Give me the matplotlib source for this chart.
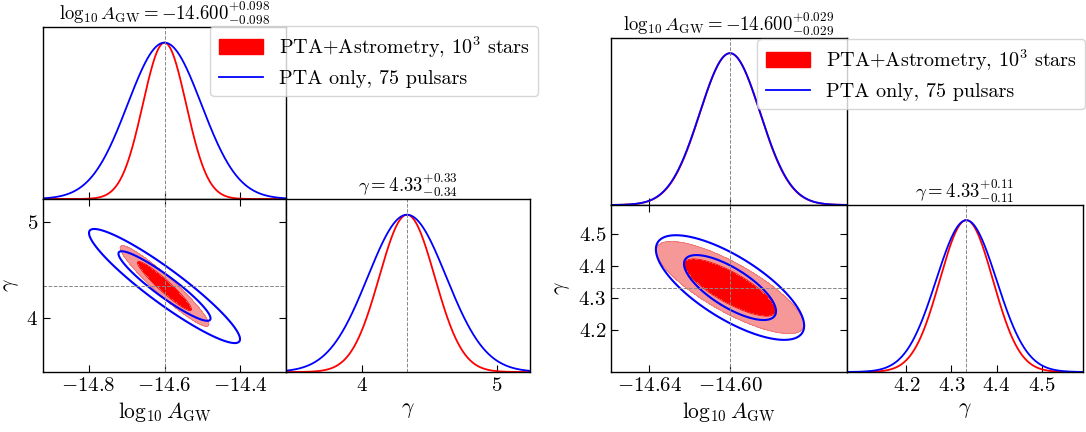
import numpy as np
import matplotlib
matplotlib.use("Agg")
import matplotlib.pyplot as plt
from matplotlib.patches import Patch
from matplotlib.lines import Line2D

plt.rcParams['font.family'] = 'serif'
plt.rcParams['font.serif'] = ['cmr10']
plt.rcParams['mathtext.fontset'] = 'cm'
plt.rcParams['axes.formatter.use_mathtext'] = True

W, H = 1086, 432

# injected values (dashed lines)
truth = [-14.6, 4.333]

# left: broad case
left_xlim = (-14.92, -14.28)
left_glim = (3.437, 5.24)
left_red_sigma = [0.057, 0.205]
left_red_rho = -0.95
left_blue_sigma = [0.097, 0.29]
left_blue_rho = -0.93
left_levels = [1.25, 2.05]
left_xticks = [-14.8, -14.6, -14.4]
left_xticklabels = [r'$-14.8$', r'$-14.6$', r'$-14.4$']
left_gticks = [4, 5]
left_gticklabels = [r'$4$', r'$5$']
left_titles = [r'$\log_{10}A_{\rm GW} = -14.600^{+0.098}_{-0.098}$',
               r'$\gamma = 4.33^{+0.33}_{-0.34}$']

# right: narrow case
right_xlim = (-14.659, -14.542)
right_glim = (4.068, 4.592)
right_red_sigma = [0.0149, 0.059]
right_red_rho = -0.80
right_blue_sigma = [0.0150, 0.067]
right_blue_rho = -0.73
right_levels = [1.52, 2.45]
right_xticks = [-14.64, -14.60]
right_xticklabels = [r'$-14.64$', r'$-14.60$']
right_gticks = [4.2, 4.3, 4.4, 4.5]
right_gticklabels = [r'$4.2$', r'$4.3$', r'$4.4$', r'$4.5$']
right_titles = [r'$\log_{10}A_{\rm GW} = -14.600^{+0.029}_{-0.029}$',
                r'$\gamma = 4.33^{+0.11}_{-0.11}$']

legend_labels = [r'PTA+Astrometry, $10^3$ stars', 'PTA only, 75 pulsars']

RED = '#ff0000'
RED_LIGHT = '#f79898'
BLUE = '#0000ff'
GUIDE = dict(color='#888888', ls='--', lw=0.7)
TICK_FS = 15
LABEL_FS = 15.5
TITLE_FS = 13.5
LEGEND_FS = 14.5


def px_axes(fig, x0, x1, y0, y1):
    return fig.add_axes([x0 / W, 1 - y1 / H, (x1 - x0) / W, (y1 - y0) / H])


def gauss1d(x, m, s):
    return np.exp(-0.5 * ((x - m) / s) ** 2)


def mahal(X, Y, sig, rho):
    dx = (X - truth[0]) / sig[0]
    dy = (Y - truth[1]) / sig[1]
    return (dx ** 2 - 2 * rho * dx * dy + dy ** 2) / (1 - rho ** 2)


def corner(fig, box, xlim, glim, red_sig, red_rho, blue_sig, blue_rho,
           levels, xticks, xticklabels, gticks, gticklabels, titles, leg_pos):
    x0, x1, x2, y0, y1, y2 = box
    ax_a = px_axes(fig, x0, x1, y0, y1)
    ax_2d = px_axes(fig, x0, x1, y1, y2)
    ax_g = px_axes(fig, x1, x2, y1, y2)

    # 1D log10 A
    xa = np.linspace(*xlim, 500)
    ax_a.plot(xa, gauss1d(xa, truth[0], red_sig[0]), color=RED, lw=1.3)
    ax_a.plot(xa, gauss1d(xa, truth[0], blue_sig[0]), color=BLUE, lw=1.3)
    ax_a.axvline(truth[0], **GUIDE)
    ax_a.set_xlim(xlim)
    ax_a.set_ylim(0, 1.1)
    ax_a.set_xticks(xticks)
    ax_a.tick_params(direction='in', left=False, labelleft=False,
                     labelbottom=False, length=5)
    ax_a.set_title(titles[0], fontsize=TITLE_FS, pad=3)

    # 1D gamma
    xg = np.linspace(*glim, 500)
    ax_g.plot(xg, gauss1d(xg, truth[1], red_sig[1]), color=RED, lw=1.3)
    ax_g.plot(xg, gauss1d(xg, truth[1], blue_sig[1]), color=BLUE, lw=1.3)
    ax_g.axvline(truth[1], **GUIDE)
    ax_g.set_xlim(glim)
    ax_g.set_ylim(0, 1.1)
    ax_g.set_xticks(gticks)
    ax_g.set_xticklabels(gticklabels)
    ax_g.tick_params(direction='in', left=False, labelleft=False,
                     labelsize=TICK_FS, length=5)
    ax_g.set_xlabel(r'$\gamma$', fontsize=LABEL_FS)
    ax_g.set_title(titles[1], fontsize=TITLE_FS, pad=2)

    # 2D
    X, Y = np.meshgrid(np.linspace(*xlim, 400), np.linspace(*glim, 400))
    d_red = mahal(X, Y, red_sig, red_rho)
    d_blue = mahal(X, Y, blue_sig, blue_rho)
    lv = [0, levels[0] ** 2, levels[1] ** 2]
    ax_2d.contourf(X, Y, d_red, levels=lv, colors=[RED, RED_LIGHT])
    ax_2d.contour(X, Y, d_red, levels=lv[1:], colors=[RED, '#f07070'],
                  linewidths=0.6)
    ax_2d.contour(X, Y, d_blue, levels=lv[1:], colors=BLUE, linewidths=1.5)
    ax_2d.axvline(truth[0], **GUIDE)
    ax_2d.axhline(truth[1], **GUIDE)
    ax_2d.set_xlim(xlim)
    ax_2d.set_ylim(glim)
    ax_2d.set_xticks(xticks)
    ax_2d.set_xticklabels(xticklabels)
    ax_2d.set_yticks(gticks)
    ax_2d.set_yticklabels(gticklabels)
    ax_2d.tick_params(direction='in', top=True, right=True,
                      labelsize=TICK_FS, length=5)
    ax_2d.set_xlabel(r'$\log_{10}A_{\rm GW}$', fontsize=LABEL_FS)
    ax_2d.set_ylabel(r'$\gamma$', fontsize=LABEL_FS)

    for ax in (ax_a, ax_2d, ax_g):
        for sp in ax.spines.values():
            sp.set_linewidth(1.0)

    handles = [Patch(facecolor=RED, edgecolor=RED),
               Line2D([], [], color=BLUE, lw=1.3)]
    fig.legend(handles, legend_labels, loc='upper right',
               bbox_to_anchor=(leg_pos[0] / W, 1 - leg_pos[1] / H),
               fontsize=LEGEND_FS, borderaxespad=0, handlelength=2.2)


fig = plt.figure(figsize=(W / 100, H / 100), dpi=100)

corner(fig, (43, 286, 529.5, 27, 199, 372), left_xlim, left_glim,
       left_red_sigma, left_red_rho, left_blue_sigma, left_blue_rho,
       left_levels, left_xticks, left_xticklabels, left_gticks,
       left_gticklabels, left_titles, (538, 26))

corner(fig, (611, 847, 1083, 38, 205, 372), right_xlim, right_glim,
       right_red_sigma, right_red_rho, right_blue_sigma, right_blue_rho,
       right_levels, right_xticks, right_xticklabels, right_gticks,
       right_gticklabels, right_titles, (1085, 39))

fig.savefig('out.png', dpi=100)
